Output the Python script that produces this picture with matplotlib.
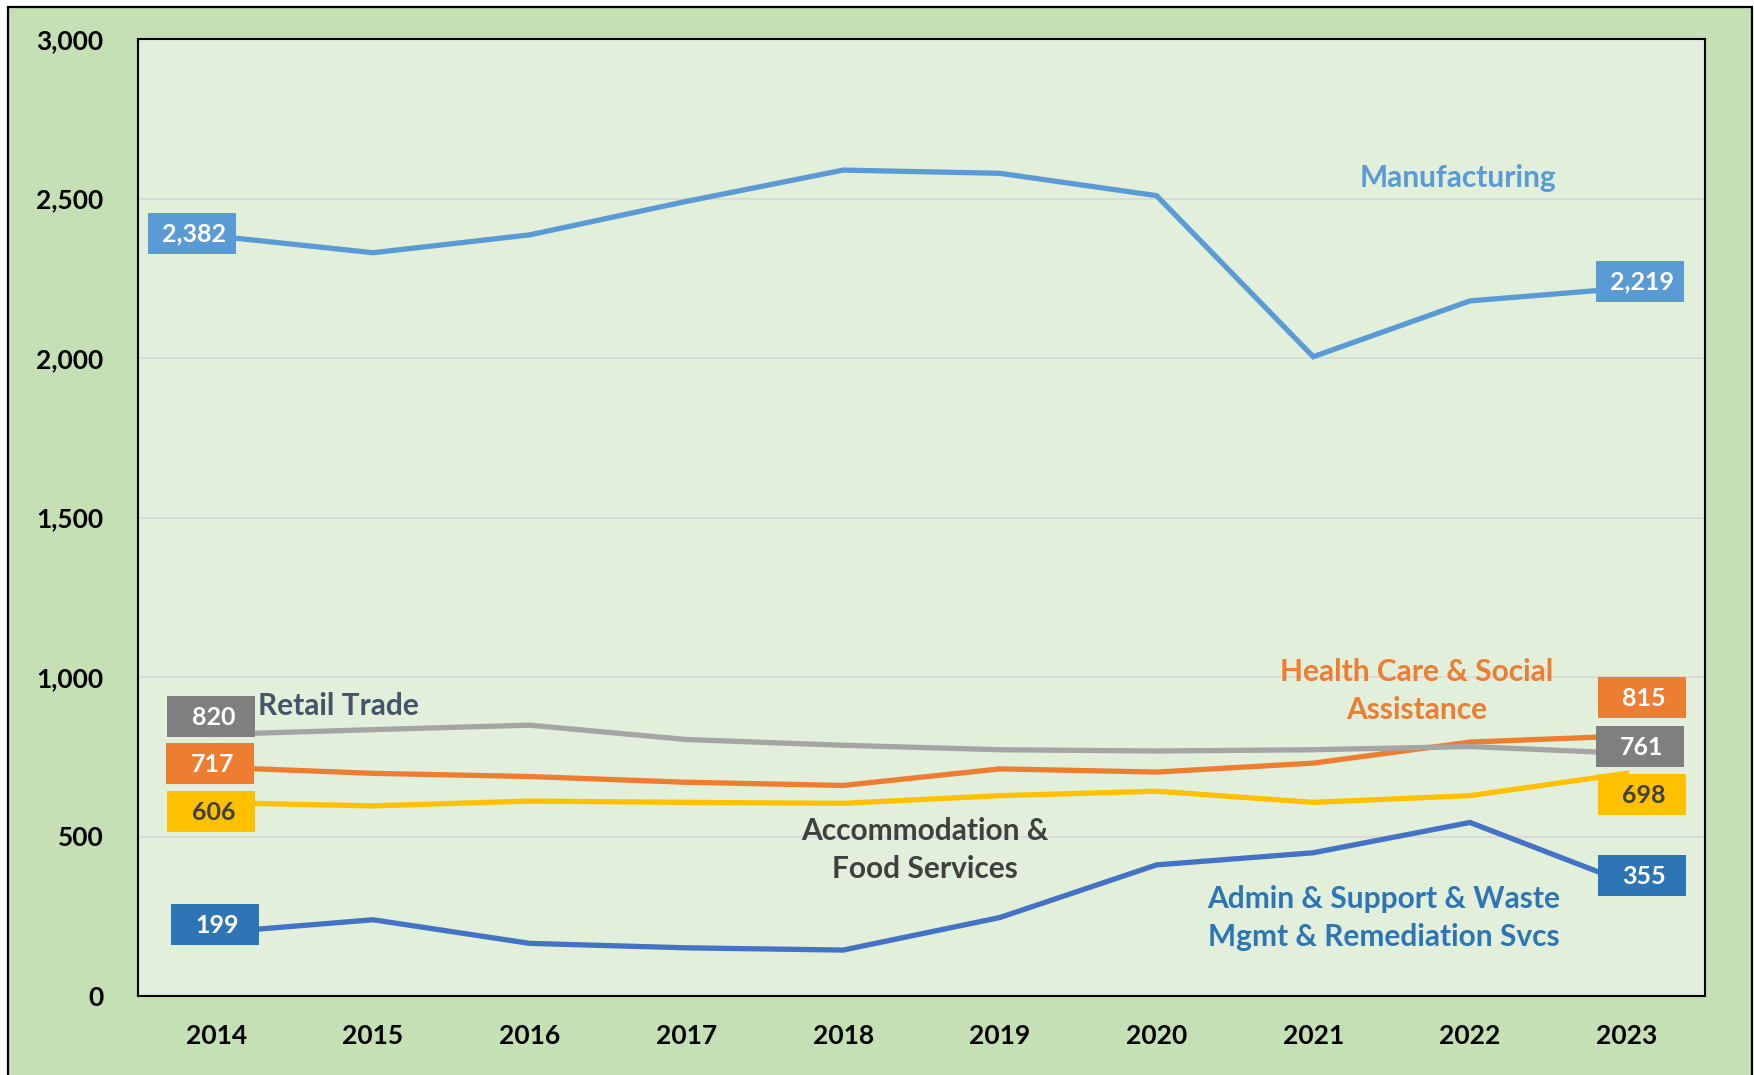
import matplotlib
matplotlib.use("Agg")
import matplotlib.pyplot as plt
from matplotlib.patches import Rectangle
from matplotlib.transforms import ScaledTranslation

# data
years = [2014, 2015, 2016, 2017, 2018, 2019, 2020, 2021, 2022, 2023]
manufacturing = [2382, 2330, 2386, 2491, 2589, 2579, 2509, 2004, 2179, 2219]
retail_trade = [820, 835, 849, 804, 786, 772, 768, 772, 782, 761]
health_care = [717, 698, 688, 670, 660, 712, 702, 730, 796, 815]
accommodation = [606, 596, 611, 607, 604, 628, 642, 607, 628, 698]
admin_support = [199, 239, 165, 151, 144, 246, 411, 449, 544, 355]
y_ticks = [0, 500, 1000, 1500, 2000, 2500, 3000]

plt.rcParams["font.family"] = ["Lato", "DejaVu Sans"]
plt.rcParams["font.weight"] = "bold"

W, H = 1754, 1075
fig = plt.figure(figsize=(W / 100, H / 100), dpi=100, facecolor="white")

# green outer frame with black border (bottom edge runs off the image)
fig.add_artist(Rectangle((8 / W, -0.02), (1752 - 8) / W, 1 - 7 / H + 0.02,
                         transform=fig.transFigure, fc="#C5E0B4", ec="black",
                         lw=1.6, zorder=-1))

ax = fig.add_axes([138 / W, 1 - 996 / H, (1705 - 138) / W, (996 - 39) / H])
ax.set_facecolor("#E2EFDA")
ax.set_xlim(-0.5, len(years) - 0.5)
ax.set_ylim(0, 3000)
ax.set_yticks(y_ticks)
ax.set_yticklabels([f"{v:,}" for v in y_ticks])
ax.set_xticks(range(len(years)))
ax.set_xticklabels([str(y) for y in years])
ax.tick_params(axis="y", length=0, pad=25, labelsize=19)
ax.tick_params(axis="x", length=0, pad=20, labelsize=19)
ax.grid(axis="y", color="#D9D9D9", lw=1.3)
ax.set_axisbelow(True)
for s in ax.spines.values():
    s.set_color("black")
    s.set_linewidth(1.5)

x = list(range(len(years)))

# (values, line colour, box colour, box text colour, first-label offset, last-label offset)
series = [
    (admin_support, "#4472C4", "#2E75B6", "white", (-1, 8), (15, 7)),
    (accommodation, "#FFC000", "#FFC000", "#404040", (-5, -9), (15, -21)),
    (health_care, "#ED7D31", "#ED7D31", "white", (-6, 4), (15, 39)),
    (retail_trade, "#A5A5A5", "#7F7F7F", "white", (-5, 18), (13, 7)),
    (manufacturing, "#5B9BD5", "#5B9BD5", "white", (-24, 3), (13, 7)),
]

box_w, box_h = 88, 41
for vals, lc, bc, tc, off0, off1 in series:
    ax.plot(x, vals, color=lc, lw=3.8, solid_joinstyle="miter", zorder=3)
    for i, (dx, dy) in ((0, off0), (len(vals) - 1, off1)):
        trans = fig.dpi_scale_trans + ScaledTranslation(x[i], vals[i], ax.transData)
        ax.add_patch(Rectangle(((dx - box_w / 2) / 100, (dy - box_h / 2) / 100),
                               box_w / 100, box_h / 100, transform=trans,
                               fc=bc, ec="none", zorder=5, clip_on=False))
        ax.annotate(f"{vals[i]:,}", xy=(x[i], vals[i]), xytext=(dx + 2, dy - 1),
                    textcoords="offset pixels", ha="center", va="center",
                    fontsize=18, color=tc, fontweight="bold", zorder=6)

# series names
lbl = dict(fontsize=21.5, fontweight="bold", linespacing=1.45)
fig.text(1458 / W, 1 - 178 / H, "Manufacturing", color="#5B9BD5",
         ha="center", va="center", **lbl)
fig.text(258 / W, 1 - 706 / H, "Retail Trade", color="#44546A",
         ha="left", va="center", **lbl)
fig.text(1417 / W, 1 - 691 / H, "Health Care & Social\nAssistance", color="#ED7D31",
         ha="center", va="center", **lbl)
fig.text(925 / W, 1 - 850 / H, "Accommodation &\nFood Services", color="#404040",
         ha="center", va="center", **lbl)
fig.text(1384 / W, 1 - 918 / H, "Admin & Support & Waste\nMgmt & Remediation Svcs",
         color="#2E75B6", ha="center", va="center", **lbl)

fig.savefig("out.png", dpi=100, facecolor=fig.get_facecolor())
